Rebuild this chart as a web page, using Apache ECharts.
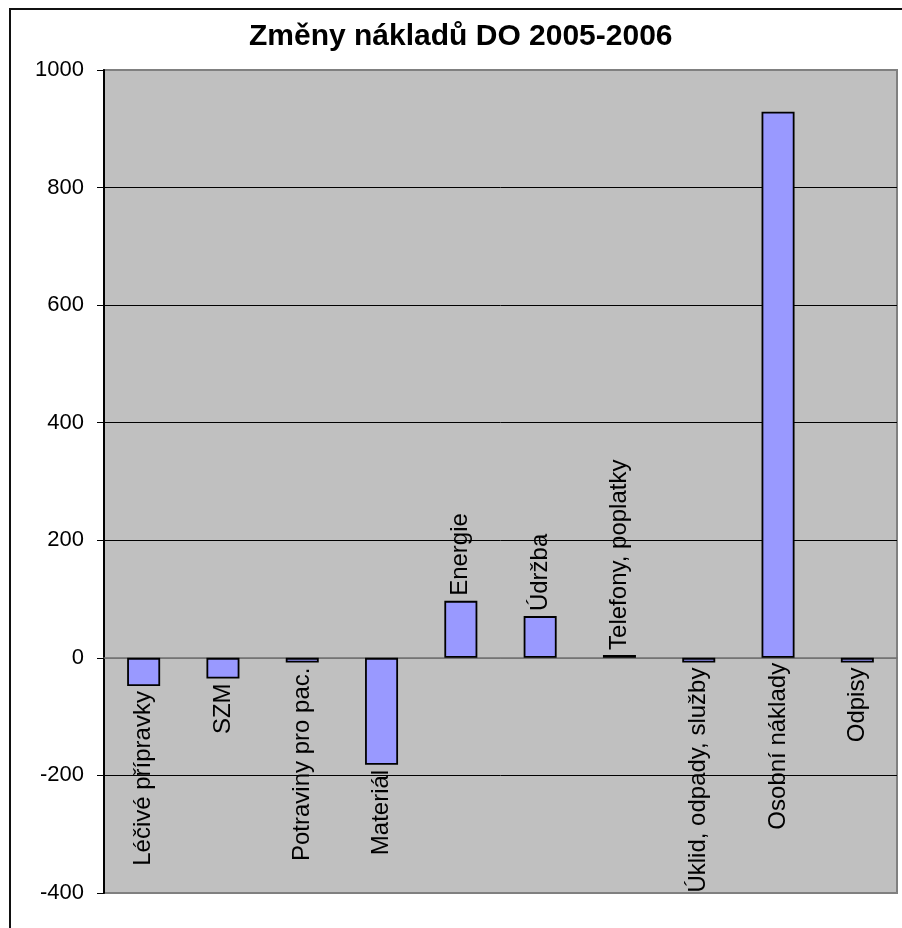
<!DOCTYPE html>
<html>
<head>
<meta charset="utf-8">
<title>Změny nákladů DO 2005-2006</title>
<script src="https://cdn.jsdelivr.net/npm/echarts@6/dist/echarts.min.js"></script>
<style>
  html, body { margin: 0; padding: 0; background: #ffffff; }
  #chart { width: 902px; height: 928px; }
</style>
</head>
<body>
<div id="chart"></div>
<script>
// Cost categories and year-on-year change
const categories = [
  'Léčivé přípravky', 'SZM', 'Potraviny pro pac.', 'Materiál', 'Energie',
  'Údržba', 'Telefony, poplatky', 'Úklid, odpady, služby', 'Osobní náklady', 'Odpisy'
];
const changes = [-48, -35, -8, -182, 97, 71, 5, -8, 929, -8];
// Categories whose name is written below the zero line
const labelsBelow = ['Léčivé přípravky', 'SZM', 'Potraviny pro pac.', 'Materiál',
  'Úklid, odpady, služby', 'Osobní náklady', 'Odpisy'];
const titleText = 'Změny nákladů DO 2005-2006';
const yMin = -400, yMax = 1000, yStep = 200;

const FONT = '"Liberation Sans", Arial, sans-serif';

// Category name is written next to the bar, rotated to read upward
const barData = changes.map((v, i) => ({
  value: v,
  label: labelsBelow.includes(categories[i])
    ? { position: 'bottom', align: 'right', verticalAlign: 'middle' }
    : { position: 'top', align: 'left', verticalAlign: 'middle' }
}));

const chart = echarts.init(document.getElementById('chart'), null, { renderer: 'canvas' });

chart.setOption({
  animation: false,
  backgroundColor: '#ffffff',
  title: {
    text: titleText,
    left: 244,
    top: 17,
    textStyle: { fontFamily: FONT, fontSize: 30, fontWeight: 'bold', color: '#000' }
  },
  graphic: [{
    type: 'rect',
    z: -10,
    shape: { x: 10, y: 9, width: 1000, height: 1000 },
    style: { fill: 'none', stroke: '#111', lineWidth: 2 }
  }],
  grid: {
    left: 104, right: 5, top: 70, bottom: 35,
    show: true,
    backgroundColor: '#c0c0c0',
    borderColor: '#808080',
    borderWidth: 2
  },
  xAxis: {
    type: 'category',
    data: categories,
    axisLine: { onZero: true, lineStyle: { color: '#707070', width: 1.5 } },
    axisTick: { show: false },
    axisLabel: { show: false },
    splitLine: { show: false }
  },
  yAxis: {
    type: 'value',
    min: yMin, max: yMax, interval: yStep,
    axisLine: { show: true, lineStyle: { color: '#000', width: 2 } },
    axisTick: { show: true, length: 7, lineStyle: { color: '#000', width: 1 } },
    axisLabel: {
      fontFamily: FONT, fontSize: 22, color: '#000', margin: 20,
      formatter: v => String(v)
    },
    splitLine: {
      show: true,
      lineStyle: {
        color: ['#808080', '#000', '#808080', '#000', '#000', '#000', '#000', '#808080'],
        width: 1
      }
    }
  },
  series: [{
    type: 'bar',
    data: barData,
    barWidth: 33,
    itemStyle: { color: '#9999ff', borderColor: '#000', borderWidth: 1.8 },
    label: {
      show: true,
      rotate: 90,
      distance: 5,
      formatter: p => categories[p.dataIndex],
      fontFamily: FONT,
      fontSize: 24,
      color: '#000'
    }
  }]
});
</script>
</body>
</html>
